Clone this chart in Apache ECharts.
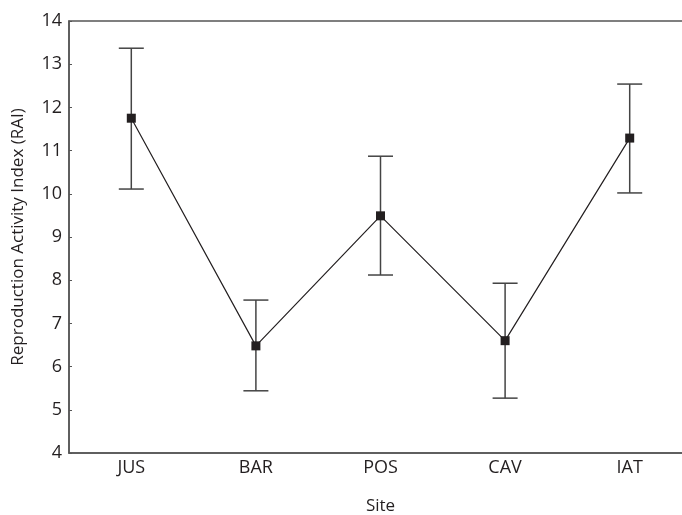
<!DOCTYPE html>
<html>
<head>
<meta charset="utf-8">
<title>RAI by site</title>
<script src="https://cdn.jsdelivr.net/npm/echarts@6/dist/echarts.min.js"></script>
<style>
    html, body { margin: 0; padding: 0; background: #fff; }
    #chart { width: 682px; height: 515px; }
</style>
</head>
<body>
<div id="chart"></div>
<script>
// values
const sites = ['JUS', 'BAR', 'POS', 'CAV', 'IAT'];
const means = [11.75, 6.48, 9.49, 6.6, 11.29];
const upper = [13.37, 7.54, 10.87, 7.93, 12.54];
const lower = [10.11, 5.44, 8.12, 5.27, 10.02];

const fontFamily = '"Open Sans", "Noto Sans", sans-serif';
const axisColor = '#555';

let errorData = sites.map((s, i) => [i, lower[i], upper[i]]);

let chart = echarts.init(document.getElementById('chart'));
chart.setOption({
    animation: false,
    grid: {
        left: 69,
        top: 21,
        width: 623,
        height: 432,
        containLabel: false,
        outerBoundsMode: 'none',
        show: true,
        borderColor: axisColor,
        borderWidth: 1.5
    },
    xAxis: {
        type: 'category',
        data: sites,
        boundaryGap: true,
        name: 'Site',
        nameLocation: 'middle',
        nameGap: 45,
        nameTextStyle: { fontFamily: fontFamily, fontSize: 17, color: '#231f20' },
        axisLine: { lineStyle: { color: axisColor, width: 1.5 } },
        axisTick: { inside: true, length: 3, alignWithLabel: true, lineStyle: { color: axisColor } },
        axisLabel: { fontFamily: fontFamily, fontSize: 18, color: '#231f20', margin: 6 },
        splitLine: { show: false }
    },
    yAxis: {
        type: 'value',
        min: 4,
        max: 14,
        interval: 1,
        name: 'Reproduction Activity Index (RAI)',
        nameLocation: 'middle',
        nameGap: 42,
        nameTextStyle: { fontFamily: fontFamily, fontSize: 17, color: '#231f20' },
        axisLine: { show: true, lineStyle: { color: axisColor, width: 1.5 } },
        axisTick: { show: true, inside: true, length: 3, lineStyle: { color: axisColor } },
        axisLabel: { fontFamily: fontFamily, fontSize: 18, color: '#231f20', margin: 7 },
        splitLine: { show: false }
    },
    series: [{
        type: 'custom',
        data: errorData,
        z: 1,
        renderItem: function(params, api) {
            let x = api.value(0);
            let lo = api.coord([x, api.value(1)]);
            let hi = api.coord([x, api.value(2)]);
            let half = 12.5;
            let style = { stroke: '#444', lineWidth: 1.5 };
            return {
                type: 'group',
                children: [
                    { type: 'line', shape: { x1: hi[0], y1: hi[1], x2: lo[0], y2: lo[1] }, style: style },
                    { type: 'line', shape: { x1: hi[0] - half, y1: hi[1], x2: hi[0] + half, y2: hi[1] }, style: style },
                    { type: 'line', shape: { x1: lo[0] - half, y1: lo[1], x2: lo[0] + half, y2: lo[1] }, style: style }
                ]
            };
        }
    }, {
        type: 'line',
        data: means,
        z: 3,
        symbol: 'rect',
        symbolSize: 9,
        showAllSymbol: true,
        lineStyle: { color: '#231f20', width: 1.2 },
        itemStyle: { color: '#231f20' }
    }]
});
</script>
</body>
</html>
